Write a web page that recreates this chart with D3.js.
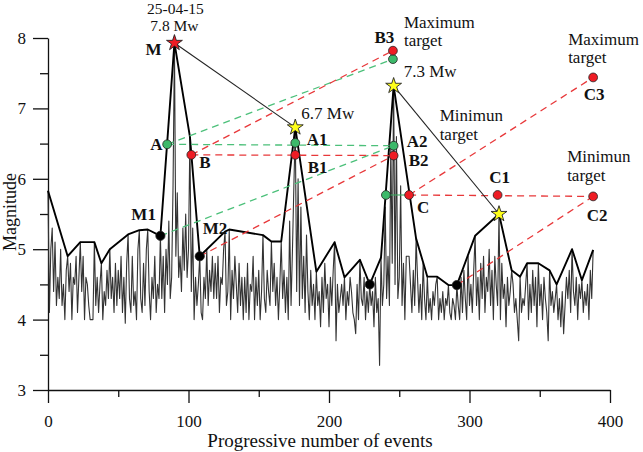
<!DOCTYPE html>
<html>
<head>
<meta charset="utf-8">
<script src="https://cdn.jsdelivr.net/npm/d3@7"></script>
<style>
  body { margin: 0; background: #fff; }
</style>
</head>
<body>
<div id="chart"></div>
<script>
// magnitude of each event (event number = index)
const magnitudes = [
  5.83, 4.1, 5.0, 5.3, 4.4, 5.1, 4.2, 4.6, 4.3, 5.0,
  4.2, 4.5, 4.0, 4.7, 4.9, 4.4, 4.8, 4.0, 4.6, 4.5,
  4.9, 4.1, 4.6, 5.1, 4.4, 4.9, 4.0, 4.6, 4.5, 4.2,
  4.0, 4.0, 4.0, 5.1, 4.2, 4.6, 4.1, 4.5, 4.8, 4.0,
  4.4, 4.2, 4.7, 4.3, 5.0, 4.3, 4.6, 4.1, 4.8, 4.2,
  4.7, 4.3, 4.9, 4.1, 4.6, 3.95, 4.8, 5.21, 4.3, 4.1,
  4.9, 4.2, 4.4, 4.0, 5.0, 5.27, 4.3, 4.1, 4.8, 4.2,
  5.0, 5.28, 4.4, 4.0, 4.6, 4.3, 4.9, 4.1, 4.5, 4.3,
  5.19, 4.3, 4.9, 4.1, 5.0, 4.5, 5.4, 4.3, 4.6, 5.9,
  7.93, 4.9, 5.8, 4.6, 4.9, 4.4, 5.3, 4.7, 5.5, 4.6,
  5.0, 6.6, 4.4, 5.3, 4.0, 4.6, 4.2, 4.5, 4.9, 4.1,
  4.0, 4.6, 4.3, 5.0, 4.2, 4.7, 4.4, 4.9, 4.3, 4.8,
  4.3, 4.9, 4.1, 4.6, 4.5, 5.0, 5.25, 4.2, 4.4, 5.28,
  4.0, 4.7, 4.3, 4.9, 4.5, 4.1, 4.8, 4.2, 4.6, 4.0,
  4.6, 4.1, 4.8, 4.0, 4.5, 4.4, 4.9, 4.0, 4.6, 4.2,
  4.7, 4.0, 4.4, 5.2, 4.3, 4.1, 4.7, 4.4, 4.2, 5.11,
  4.4, 4.8, 4.2, 4.6, 4.0, 4.5, 5.11, 4.3, 4.7, 4.1,
  4.6, 4.0, 5.4, 4.2, 5.0, 5.9, 6.73, 4.4, 6.0, 4.2,
  5.6, 4.3, 4.9, 4.1, 5.2, 4.4, 4.0, 4.7, 4.2, 4.5,
  4.0, 4.68, 4.2, 4.4, 3.9, 4.6, 4.1, 4.8, 4.3, 4.5,
  3.9, 4.6, 4.2, 4.7, 5.1, 3.7, 4.5, 4.1, 4.3, 4.5,
  4.2, 4.6, 4.0, 4.4, 4.2, 4.6, 4.4, 4.1, 4.0, 3.8,
  4.5, 4.0, 4.85, 4.3, 4.2, 4.6, 4.0, 4.4, 4.1, 4.5,
  4.2, 4.4, 3.9, 4.6, 4.1, 4.3, 3.35, 4.88, 4.2, 4.5,
  5.6, 4.3, 4.9, 4.2, 6.5, 4.8, 7.32, 4.5, 6.6, 4.3,
  4.6, 5.9, 4.2, 4.8, 4.0, 4.9, 4.9, 4.9, 4.5, 4.1,
  4.7, 4.2, 5.15, 4.6, 4.1, 4.5, 4.0, 4.8, 4.3, 4.0,
  4.61, 4.1, 4.3, 4.0, 4.4, 4.2, 4.5, 4.61, 4.0, 4.3,
  4.1, 4.4, 4.0, 4.3, 4.2, 4.49, 4.1, 4.0, 4.3, 4.2,
  4.0, 4.49, 4.2, 4.0, 4.6, 4.1, 4.7, 4.3, 4.0, 4.9,
  4.2, 4.5, 4.1, 4.7, 5.19, 4.2, 4.6, 4.0, 4.8, 4.3,
  4.9, 4.1, 4.6, 4.4, 5.0, 4.2, 4.7, 4.0, 4.9, 4.5,
  4.2, 5.5, 4.0, 4.8, 4.3, 4.5, 3.9, 4.6, 4.2, 4.4,
  4.7, 4.5, 4.1, 4.3, 4.0, 3.7, 4.61, 4.1, 4.3, 4.2,
  4.5, 4.8, 4.0, 4.5, 4.1, 4.7, 4.2, 4.6, 3.9, 4.8,
  4.2, 4.5, 4.0, 4.6, 4.3, 4.1, 3.7, 4.7, 4.2, 4.4,
  4.1, 4.3, 4.5, 4.0, 4.3, 3.9, 4.4, 3.8, 4.2, 4.6,
  4.3, 4.7, 4.1, 5.0, 4.4, 4.2, 4.6, 4.0, 4.5, 4.3,
  4.56, 4.1, 4.4, 4.2, 4.5, 4.0, 4.7, 4.3, 4.99
];

// upper envelope (thick black line)
const envEvents = [0, 14, 23, 33, 38, 44, 57, 65, 71, 80, 90, 101, 108, 126, 129, 153, 159, 166,
  176, 191, 204, 211, 222, 229, 237, 246, 262, 270, 277, 285, 291, 304, 321, 330, 336, 341, 349,
  357, 362, 373, 380, 388];
const envMags = [5.83, 4.9, 5.1, 5.1, 4.8, 5.0, 5.21, 5.27, 5.28, 5.19, 7.93, 6.6, 4.9, 5.25, 5.28,
  5.2, 5.11, 5.11, 6.73, 4.68, 5.1, 4.6, 4.85, 4.5, 4.88, 7.32, 5.15, 4.61, 4.61, 4.49, 4.49, 5.19,
  5.5, 4.7, 4.61, 4.8, 4.8, 4.7, 4.5, 5.0, 4.56, 4.99];

// marked points [event, magnitude]
const ptM = [90, 7.93], ptS1 = [176, 6.73], ptS2 = [246, 7.32], ptS3 = [321, 5.5];
const ptA = [84.8, 6.49], ptA1 = [176, 6.51], ptA2 = [246, 6.47], ptB3g = [245.5, 7.70], ptG = [240.5, 5.77];
const ptB = [102, 6.34], ptB1 = [176, 6.34], ptB2 = [246, 6.33], ptB3 = [245.5, 7.82];
const ptC = [257, 5.77], ptC1 = [320, 5.77], ptC2 = [388, 5.75], ptC3 = [388, 7.44];
const ptM1 = [80, 5.19], ptM2 = [108, 4.9], ptK1 = [229, 4.5], ptK2 = [291, 4.49];

const redStars = [ptM];
const yellowStars = [ptS1, ptS2, ptS3];
const greenDots = [ptA, ptA1, ptA2, ptB3g, ptG];
const redDots = [ptB, ptB1, ptB2, ptB3, ptC, ptC1, ptC2, ptC3];
const blackDots = [ptM1, ptM2, ptK1, ptK2];

const greenLinks = [[ptA, ptA2], [ptA, ptB3g], [ptM1, ptA2]];
const redLinks = [[ptB, ptB2], [ptB, ptB3], [ptM2, ptB2], [ptC, ptC2], [ptC, ptC3], [ptK2, ptC2]];
const solidGreenLinks = [[ptG, ptC]];
const starLinks = [[ptM, ptS1], [ptS2, ptS3]];

const xTicks = [0, 100, 200, 300, 400];
const xMinor = [50, 150, 250, 350];
const yTicks = [3, 4, 5, 6, 7, 8];
const yMinor = [3.5, 4.5, 5.5, 6.5, 7.5];

const serif = "'Liberation Serif', 'Times New Roman', Times, serif";
const width = 643, height = 452;
const margin = {top: 38, right: 33, bottom: 62, left: 48};
const w = width - margin.left - margin.right;
const h = height - margin.top - margin.bottom;

let svg = d3.select("#chart")
    .append("svg")
    .attr("width", width)
    .attr("height", height)
    .attr("font-family", serif)
    .append("g")
    .attr("transform", `translate(${margin.left}, ${margin.top})`);

let x = d3.scaleLinear().domain([0, 400]).range([0, w]);
let y = d3.scaleLinear().domain([3, 8]).range([h, 0]);

// axes
svg.append("g")
    .call(d3.axisLeft(y).tickValues(yTicks).tickFormat(d3.format("d"))
        .tickSize(15).tickSizeOuter(0).tickPadding(7));
svg.append("g")
    .call(d3.axisLeft(y).tickValues(yMinor).tickSize(8).tickFormat(""))
    .select(".domain").remove();
svg.append("g")
    .attr("transform", `translate(0, ${h})`)
    .call(d3.axisBottom(x).tickValues(xTicks).tickFormat(d3.format("d"))
        .tickSize(13).tickSizeOuter(0).tickPadding(12));
svg.append("g")
    .attr("transform", `translate(0, ${h})`)
    .call(d3.axisBottom(x).tickValues(xMinor).tickSize(7).tickFormat(""))
    .select(".domain").remove();

svg.selectAll("g").attr("font-family", serif).attr("font-size", 17);
svg.selectAll(".tick line, .domain").attr("stroke", "#111").attr("stroke-width", 1.3);
svg.selectAll(".tick text").attr("fill", "#111");

svg.append("text")
    .attr("transform", `translate(${w / 2 - 9}, ${h + 57})`)
    .style("text-anchor", "middle")
    .style("font-size", "19px")
    .attr("fill", "#111")
    .text("Progressive number of events");

svg.append("text")
    .attr("transform", `translate(-32, ${h / 2 - 2})rotate(-90)`)
    .style("text-anchor", "middle")
    .style("font-size", "18px")
    .attr("fill", "#111")
    .text("Magnitude");

// grey event trace
svg.append("path")
    .datum(magnitudes)
    .attr("fill", "none")
    .attr("stroke", "#333")
    .attr("stroke-width", 1.1)
    .attr("stroke-linejoin", "round")
    .attr("d", d3.line().x((d, i) => x(i)).y(d => y(d)));

// envelope
svg.append("path")
    .datum(envEvents.map((e, i) => [e, envMags[i]]))
    .attr("fill", "none")
    .attr("stroke", "#000")
    .attr("stroke-width", 1.9)
    .attr("stroke-linejoin", "round")
    .attr("d", d3.line().x(d => x(d[0])).y(d => y(d[1])));

function links(data, color, dash, sw) {
    svg.append("g").selectAll("line")
        .data(data)
        .enter()
        .append("line")
        .attr("x1", d => x(d[0][0]))
        .attr("y1", d => y(d[0][1]))
        .attr("x2", d => x(d[1][0]))
        .attr("y2", d => y(d[1][1]))
        .attr("stroke", color)
        .attr("stroke-width", sw)
        .attr("stroke-dasharray", dash);
}
links(greenLinks, "#4cc07a", "7,5", 1.3);
links(redLinks, "#e8383a", "7,5", 1.3);
links(solidGreenLinks, "#3aa85e", null, 1.1);
links(starLinks, "#222", null, 1.1);

function dots(data, fill, r) {
    svg.append("g").selectAll("circle")
        .data(data)
        .enter()
        .append("circle")
        .attr("cx", d => x(d[0]))
        .attr("cy", d => y(d[1]))
        .attr("r", r)
        .attr("fill", fill)
        .attr("stroke", "#222")
        .attr("stroke-width", 0.8);
}
dots(greenDots, "#3cb96a", 4.4);
dots(redDots, "#ee1c24", 4.4);
dots(blackDots, "#000", 4.6);

function stars(data, fill) {
    svg.append("g").selectAll("path")
        .data(data)
        .enter()
        .append("path")
        .attr("transform", d => `translate(${x(d[0])}, ${y(d[1])})`)
        .attr("d", d3.symbol().type(d3.symbolStar).size(78))
        .attr("fill", fill)
        .attr("stroke", "#222")
        .attr("stroke-width", 0.9);
}
stars(redStars, "#ee1c24");
stars(yellowStars, "#ffff1a");

// annotations
function label(txt, p, dx, dy, anchor, bold, size) {
    svg.append("text")
        .attr("x", x(p[0]) + dx)
        .attr("y", y(p[1]) + dy)
        .attr("fill", "#111")
        .style("text-anchor", anchor)
        .style("font-size", (size || 17) + "px")
        .style("font-weight", bold ? "bold" : "normal")
        .text(txt);
}
label("25-04-15", ptM, 1, -28.5, "middle", false, 15.5);
label("7.8 Mw", ptM, 0, -12, "middle", false, 15.5);
label("M", ptM, -13, 12, "end", true);
label("A", ptA, -4.5, 6, "end", true);
label("B", ptB, 8, 13, "start", true);
label("M1", ptM1, -4.5, -16, "end", true);
label("M2", ptM2, 3, -22, "start", true);
label("6.7 Mw", ptS1, 6, -8, "start", false);
label("A1", ptA1, 11.5, 2, "start", true);
label("B1", ptB1, 12.5, 18, "start", true);
label("B3", ptB3, -8.5, -8, "middle", true);
label("Maximum", ptB3, 11, -23, "start", false);
label("target", ptB3, 11, -4.5, "start", false);
label("7.3 Mw", ptS2, 10, -9, "start", false);
label("A2", ptA2, 13, 1, "start", true);
label("B2", ptB2, 15, 10, "start", true);
label("Minimun", ptS2, 46, 35, "start", false);
label("target", ptS2, 46, 54, "start", false);
label("C", ptC, 8, 18, "start", true);
label("C1", ptC1, 2, -12, "middle", true);
label("Maximum", ptC3, -25, -32.4, "start", false);
label("target", ptC3, -25, -14, "start", false);
label("C3", ptC3, 1, 22.6, "middle", true);
label("Minimun", ptC2, -26, -34, "start", false);
label("target", ptC2, -26, -15, "start", false);
label("C2", ptC2, 4, 25, "middle", true);
</script>
</body>
</html>
